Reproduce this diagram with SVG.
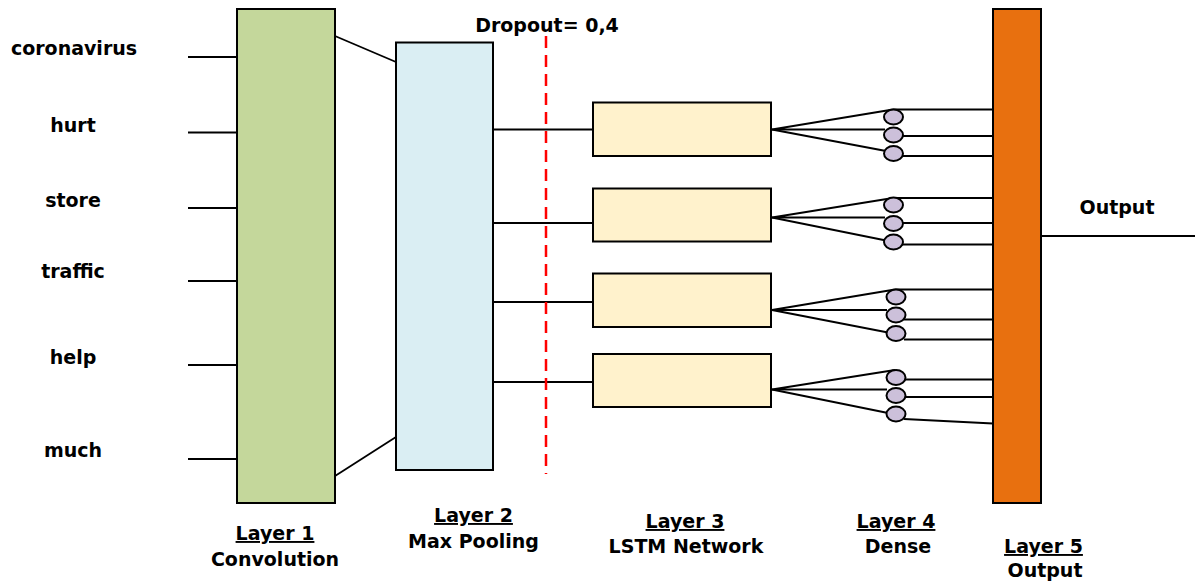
<svg xmlns="http://www.w3.org/2000/svg" width="1201" height="585" viewBox="0 0 1201 585">
  <style>
    text { font-family: "DejaVu Sans", "Liberation Sans", sans-serif; font-weight: bold; font-size: 19px; fill: #000; text-anchor: middle; }
    .u { text-decoration: underline; }
    .box { stroke: #000; stroke-width: 2; }
    .conv { fill: #C4D79B; }
    .pool { fill: #DAEEF3; }
    .lstm { fill: #FFF2CC; }
    .out { fill: #E8700F; }
    .unit { fill: #CCC0DA; stroke: #000; stroke-width: 2; }
    .wire { stroke: #000; stroke-width: 1.8; fill: none; }
    .drop { stroke: #FF0000; stroke-width: 2.5; stroke-dasharray: 12 7; fill: none; }
  </style>

  <!-- input tokens -->
  <g id="inputs">
    <text x="74" y="55">coronavirus</text>
    <text x="73" y="132">hurt</text>
    <text x="73" y="207">store</text>
    <text x="73" y="278">traffic</text>
    <text x="73" y="364">help</text>
    <text x="73" y="457">much</text>
  </g>

  <!-- connectors -->
  <g id="connectors">
    <!-- tokens into convolution -->
    <line class="wire" x1="188" y1="57" x2="237" y2="57"/>
    <line class="wire" x1="188" y1="132.5" x2="237" y2="132.5"/>
    <line class="wire" x1="188" y1="208" x2="237" y2="208"/>
    <line class="wire" x1="188" y1="281" x2="237" y2="281"/>
    <line class="wire" x1="188" y1="365" x2="237" y2="365"/>
    <line class="wire" x1="188" y1="459" x2="237" y2="459"/>
    <!-- convolution to pooling -->
    <line class="wire" x1="335" y1="36" x2="396" y2="62"/>
    <line class="wire" x1="335" y1="476" x2="396" y2="437"/>
    <!-- pooling to LSTM -->
    <line class="wire" x1="493" y1="129.5" x2="593" y2="129.5"/>
    <line class="wire" x1="493" y1="223" x2="593" y2="223"/>
    <line class="wire" x1="493" y1="302" x2="593" y2="302"/>
    <line class="wire" x1="493" y1="382" x2="593" y2="382"/>

    <!-- LSTM 1 fan-out -->
    <polyline class="wire" points="893,109.5 772,129.5 885,129.5"/>
    <line class="wire" x1="772" y1="129.5" x2="886" y2="151"/>
    <line class="wire" x1="893" y1="109.5" x2="993" y2="109.5"/>
    <line class="wire" x1="902" y1="136" x2="993" y2="136"/>
    <line class="wire" x1="902" y1="156" x2="993" y2="156"/>
    <!-- LSTM 2 fan-out -->
    <polyline class="wire" points="893,198 772,217.5 885,217.5"/>
    <line class="wire" x1="772" y1="217.5" x2="886" y2="240.5"/>
    <line class="wire" x1="893" y1="198" x2="993" y2="198"/>
    <line class="wire" x1="902" y1="223" x2="993" y2="223"/>
    <line class="wire" x1="902" y1="244.5" x2="993" y2="244.5"/>
    <!-- LSTM 3 fan-out -->
    <polyline class="wire" points="895,289.5 772,310 887,310"/>
    <line class="wire" x1="772" y1="310" x2="888" y2="332.5"/>
    <line class="wire" x1="895" y1="289.5" x2="993" y2="289.5"/>
    <line class="wire" x1="904" y1="319.5" x2="993" y2="319.5"/>
    <line class="wire" x1="904" y1="339.5" x2="993" y2="339.5"/>
    <!-- LSTM 4 fan-out -->
    <polyline class="wire" points="895,370 772,389.5 887,389.5"/>
    <line class="wire" x1="772" y1="389.5" x2="888" y2="413"/>
    <line class="wire" x1="904" y1="379.5" x2="993" y2="379.5"/>
    <line class="wire" x1="904" y1="397" x2="993" y2="397"/>
    <line class="wire" x1="904" y1="419" x2="993" y2="423.5"/>

    <!-- final output -->
    <line class="wire" x1="1041" y1="236" x2="1195" y2="236"/>
  </g>

  <!-- dropout marker -->
  <g id="dropout">
    <line class="drop" x1="546" y1="36" x2="546" y2="474"/>
    <text x="547" y="32">Dropout= 0,4</text>
  </g>

  <g id="layer1">
    <rect class="box conv" x="237" y="9" width="98" height="494"/>
    <text class="u" x="275" y="540">Layer 1</text>
    <text x="275" y="566">Convolution</text>
  </g>

  <g id="layer2">
    <rect class="box pool" x="396" y="42.5" width="97" height="427.5"/>
    <text class="u" x="473.5" y="522">Layer 2</text>
    <text x="473.5" y="548">Max Pooling</text>
  </g>

  <g id="layer3">
    <rect class="box lstm" x="593" y="102.5" width="178" height="53.5"/>
    <rect class="box lstm" x="593" y="188.5" width="178" height="53"/>
    <rect class="box lstm" x="593" y="273.5" width="178" height="53.5"/>
    <rect class="box lstm" x="593" y="354" width="178" height="53"/>
    <text class="u" x="685" y="528">Layer 3</text>
    <text x="686" y="553">LSTM Network</text>
  </g>

  <g id="layer4">
    <ellipse class="unit" cx="893.5" cy="117" rx="9.5" ry="7.5"/>
    <ellipse class="unit" cx="893.5" cy="135" rx="9.5" ry="7.5"/>
    <ellipse class="unit" cx="893.5" cy="153.5" rx="9.5" ry="7.5"/>
    <ellipse class="unit" cx="893.5" cy="205" rx="9.5" ry="7.5"/>
    <ellipse class="unit" cx="893.5" cy="223.5" rx="9.5" ry="7.5"/>
    <ellipse class="unit" cx="893.5" cy="242" rx="9.5" ry="7.5"/>
    <ellipse class="unit" cx="896" cy="297" rx="9.5" ry="7.5"/>
    <ellipse class="unit" cx="896" cy="315" rx="9.5" ry="7.5"/>
    <ellipse class="unit" cx="896" cy="333.5" rx="9.5" ry="7.5"/>
    <ellipse class="unit" cx="896" cy="377.5" rx="9.5" ry="7.5"/>
    <ellipse class="unit" cx="896" cy="395.5" rx="9.5" ry="7.5"/>
    <ellipse class="unit" cx="896" cy="414" rx="9.5" ry="7.5"/>
    <text class="u" x="896" y="528">Layer 4</text>
    <text x="898" y="553">Dense</text>
  </g>

  <g id="layer5">
    <rect class="box out" x="993" y="9" width="48" height="494"/>
    <text class="u" x="1043.5" y="553">Layer 5</text>
    <text x="1045" y="577">Output</text>
  </g>

  <g id="result">
    <text x="1117" y="214">Output</text>
  </g>
</svg>
